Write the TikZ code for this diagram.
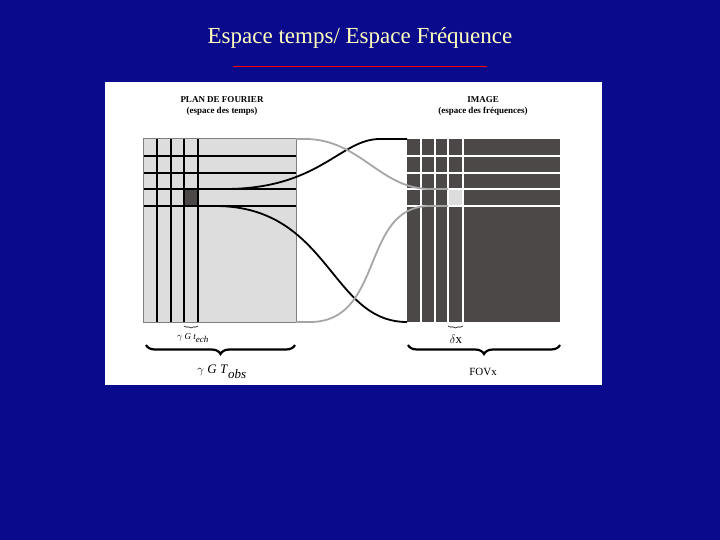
\documentclass[tikz,border=0pt]{standalone}
\usepackage{fontspec}
\setmainfont{Liberation Serif}
\usetikzlibrary{decorations.pathreplacing}
\definecolor{bgblue}{RGB}{10,10,140}
\definecolor{lgray}{RGB}{221,221,221}
\definecolor{dgray}{RGB}{76,72,72}
\definecolor{titley}{RGB}{255,255,190}
\begin{document}
\begin{tikzpicture}[x=1pt,y=-1pt,
  blk/.style={line width=1.5pt,black},
  wht/.style={line width=1.5pt,white},
  curveb/.style={line width=1.8pt,black},
  curveg/.style={line width=1.8pt,gray!70},
  lbl/.style={font=\fontsize{9}{10.5}\selectfont\bfseries,align=center,inner sep=0},
  brc/.style={decorate,decoration={brace,mirror,amplitude=#1}}]
\useasboundingbox (0,0) rectangle (720,540);
\fill[bgblue] (0,0) rectangle (720,540);
\node[titley,font=\fontsize{23}{24}\selectfont] (title) at (360,38) {Espace temps/ Espace Fréquence};
\draw[red,line width=1pt] (233,67) coordinate (ra) -- (487,67) coordinate (rb);
\fill[white] (105,82) rectangle (602,385);
% left grid
\fill[lgray] (143,139) rectangle (296,322);
\fill[dgray] (184,189) rectangle (198,206);
\foreach \x in {157,171,184,198} \draw[blk] (\x,139) -- (\x,322);
\foreach \y in {156,173,189,206} \draw[blk] (143,\y) -- (296,\y);
\draw[gray,line width=1pt] (143,139) rectangle (296,322);
% right grid
\fill[dgray] (407,139) rectangle (560,322);
\fill[lgray] (448,189) rectangle (463,206);
\foreach \x in {421,435,448,463} \draw[wht] (\x,139) -- (\x,322);
\foreach \y in {156,173,189,206} \draw[wht] (407,\y) -- (560,\y);
% anchors
\coordinate (lt) at (198,189); \coordinate (lb) at (198,206);
\coordinate (rtop) at (407,139); \coordinate (rbot) at (407,322);
\coordinate (ltop) at (296,139); \coordinate (lbot) at (296,322);
\coordinate (st) at (448,189); \coordinate (sb) at (448,206);
\draw[curveb] (lt) -- (225,189) .. controls (320,189) and (340,139) .. (380,139) -- (rtop);
\draw[curveb] (lb) -- (215,206) .. controls (330,206) and (330,322) .. (407,322) -- (rbot);
\draw[curveg] (ltop) -- (305,139) .. controls (360,139) and (380,189) .. (430,189) -- (st);
\draw[curveg] (lbot) -- (310,322) .. controls (385,322) and (360,206) .. (430,206) -- (sb);
% labels
\node[lbl] (plan) at (222,106) {PLAN DE FOURIER\\(espace des temps)};
\node[lbl] (image) at (483,106) {IMAGE\\(espace des fréquences)};
% braces
\draw[brc=2pt,line width=0.6pt] (184,326) coordinate (b1a) -- (198,326) coordinate (b1b);
\node[font=\fontsize{9}{10}\selectfont] (tech) at (193,338) {$\gamma$ \textit{G t}$_{\textit{ech}}$};
\draw[brc=9pt,line width=2.2pt] (146,345) coordinate (b2a) -- (295,345) coordinate (b2b);
\node[font=\fontsize{13}{14}\selectfont] (tobs) at (222,372) {$\gamma$ \textit{G T}$_{\textit{obs}}$};
\draw[brc=2pt,line width=0.6pt] (448,326) coordinate (b3a) -- (463,326) coordinate (b3b);
\node[font=\fontsize{13}{14}\selectfont] (dx) at (456,339) {$\delta$x};
\draw[brc=9pt,line width=2.2pt] (408,345) coordinate (b4a) -- (560,345) coordinate (b4b);
\node[font=\fontsize{11}{12}\selectfont] (fov) at (483,372) {FOVx};
\end{tikzpicture}
\end{document}
